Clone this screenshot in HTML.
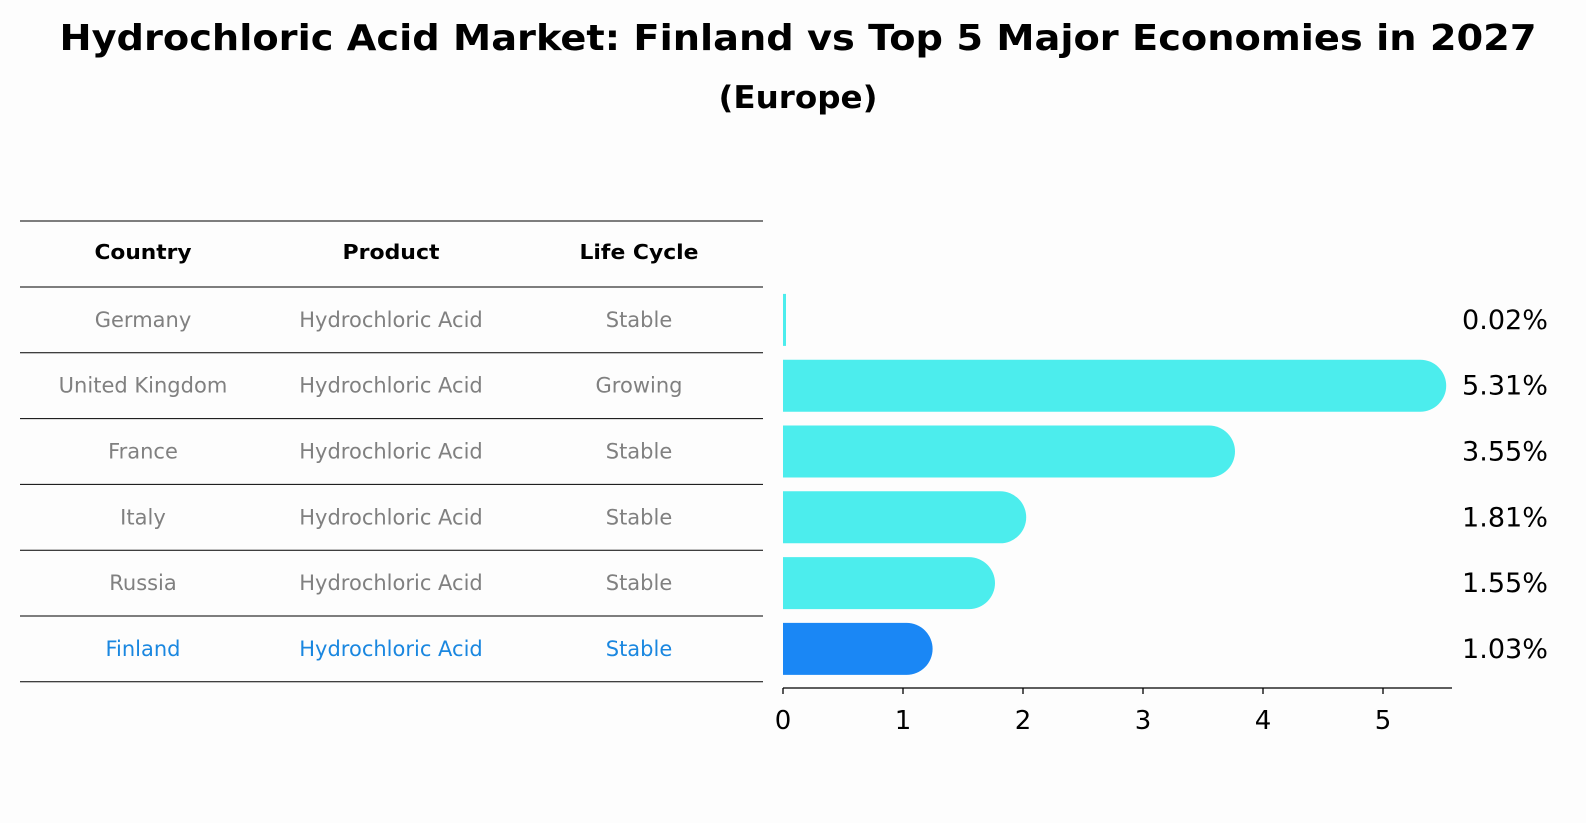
<!DOCTYPE html>
<html><head><meta charset="utf-8"><style>
body{margin:0;background:#fdfdfd;font-family:"DejaVu Sans","Liberation Sans",sans-serif;}
#root{position:relative;width:1586px;height:823px;overflow:hidden;}
</style></head><body>
<div id="root">
<svg id="svg" width="1586" height="823" xmlns="http://www.w3.org/2000/svg">
<text x="798" y="50" text-anchor="middle" font-size="36" font-weight="bold" fill="#000" textLength="1477" lengthAdjust="spacingAndGlyphs">Hydrochloric Acid Market: Finland vs Top 5 Major Economies in 2027</text>
<text x="798" y="108" text-anchor="middle" font-size="31" font-weight="bold" fill="#000" textLength="159" lengthAdjust="spacingAndGlyphs">(Europe)</text>
<g id="table"></g>
<g id="bars"></g>
</svg>
</div>
<script>
const countries=["Germany","United Kingdom","France","Italy","Russia","Finland"];
const products=["Hydrochloric Acid","Hydrochloric Acid","Hydrochloric Acid","Hydrochloric Acid","Hydrochloric Acid","Hydrochloric Acid"];
const lifeCycles=["Stable","Growing","Stable","Stable","Stable","Stable"];
const values=[0.02,5.31,3.55,1.81,1.55,1.03];
const valueLabels=["0.02%","5.31%","3.55%","1.81%","1.55%","1.03%"];
const ticks=[0,1,2,3,4,5];
const NS="http://www.w3.org/2000/svg";
function mk(tag,attrs,parent){const e=document.createElementNS(NS,tag);for(const k in attrs)e.setAttribute(k,attrs[k]);parent.appendChild(e);return e;}
function fit(t,factor){const w=t.getComputedTextLength();if(w>0){t.setAttribute('textLength',(w*factor).toFixed(1));t.setAttribute('lengthAdjust','spacingAndGlyphs');}}
const x0=783,pxPerUnit=120;
function xs(v){return x0+v*pxPerUnit;}
const rowTop=287,rowH=65.8;
function yc(i){return rowTop+rowH*i+rowH/2;}
const table=document.getElementById('table'),bars=document.getElementById('bars');
const lineYs=[221,287];for(let i=1;i<=6;i++)lineYs.push(rowTop+rowH*i);
lineYs.forEach((y)=>{const l=mk('line',{x1:20,x2:763,y1:y,y2:y,stroke:'#000','stroke-width':1},table);

});
const colX=[143,391,639];
const headerW=[97,97,119];
["Country","Product","Life Cycle"].forEach((h,j)=>{const t=mk('text',{x:colX[j],y:259,'text-anchor':'middle','font-size':20,'font-weight':'bold',fill:'#000',textLength:headerW[j],lengthAdjust:'spacingAndGlyphs'},table);t.textContent=h;

});
countries.forEach((c,i)=>{const fin=i===countries.length-1;const col=fin?'#1a87e0':'#808080';
[c,products[i],lifeCycles[i]].forEach((v,j)=>{const t=mk('text',{x:colX[j],y:yc(i)+7,'text-anchor':'middle','font-size':21,fill:col},table);t.textContent=v;


fit(t,1.0);});});
const bh=52,r=26;
values.forEach((v,i)=>{const fin=i===values.length-1;const col=fin?'#1a87f5':'#4ceded';const y=yc(i)-bh/2;const w=v*pxPerUnit;let b;
if(w<r){b=mk('rect',{x:x0,y:y,width:Math.max(w,3),height:bh,fill:col},bars);}
else{const xe=xs(v);b=mk('path',{d:`M${x0},${y}H${xe}A${r},${r} 0 0 1 ${xe},${y+bh}H${x0}Z`,fill:col},bars);}


const t=mk('text',{x:1462,y:yc(i)+9,'font-size':27,fill:'#000',textLength:86,lengthAdjust:'spacingAndGlyphs'},bars);t.textContent=valueLabels[i];

});
const ax=mk('line',{x1:x0,x2:1452,y1:688,y2:688,stroke:'#000','stroke-width':1.3},bars);


ticks.forEach(tv=>{const tl=mk('line',{x1:xs(tv),x2:xs(tv),y1:688,y2:694,stroke:'#000','stroke-width':1.3},bars);


const t=mk('text',{x:xs(tv),y:729,'text-anchor':'middle','font-size':26,fill:'#000'},bars);t.textContent=tv;

});
</script>
</body></html>
